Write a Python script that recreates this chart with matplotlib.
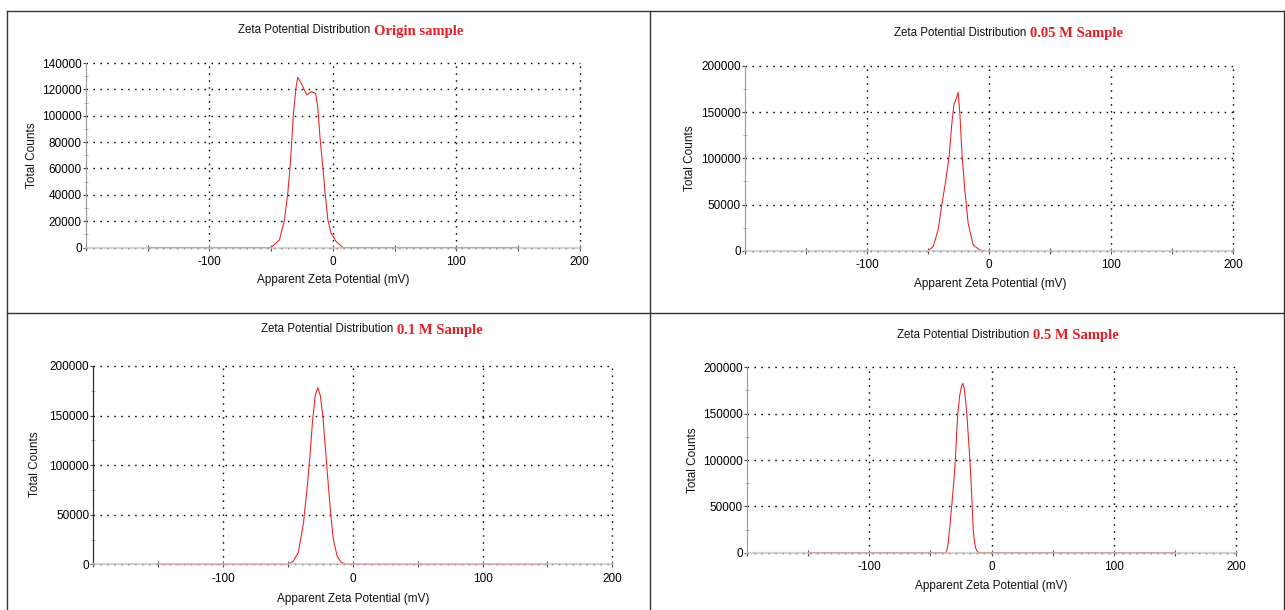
import matplotlib
matplotlib.use("Agg")
import matplotlib.pyplot as plt
from matplotlib.ticker import MultipleLocator
from matplotlib.lines import Line2D

plt.rcParams['axes.unicode_minus'] = False
plt.rcParams['font.family'] = ['Liberation Sans', 'DejaVu Sans']

W, H = 1285, 610

# ---------------- data ----------------
titles = ["Origin sample", "0.05 M Sample", "0.1 M Sample", "0.5 M Sample"]

mv1 = [-150, -50, -43.2, -39.2, -36.5, -34.6, -33.2, -31.9, -29.7, -28.4, -25.6,
       -21.1, -17.5, -14.0, -12.2, -10.2, -8.1, -6.2, -4.0, -1.4, 2.7, 8.1, 150]
counts1 = [0, 0, 5800, 21000, 41200, 61400, 81600, 101900, 122000, 129200, 124600,
           115800, 118300, 117000, 106900, 81600, 61400, 41200, 21000, 10900, 4500, 0, 0]

mv2 = [-49.9, -45.8, -41.7, -38.9, -35.4, -32.7, -30.7, -28.8, -27.2, -25.3,
       -23.9, -22.0, -19.8, -17.1, -13.0, -7.5, -3.4]
counts2 = [0, 4300, 22400, 47700, 76600, 101800, 134300, 158100, 163500, 171400,
           149000, 101800, 65800, 29700, 6200, 500, 0]

mv3 = [-150, -50, -46, -42, -38, -35, -33, -31, -29, -27, -25, -23, -21, -19,
       -17, -15, -12, -9, -5, 150]
counts3 = [0, 0, 3000, 12000, 42000, 80000, 110000, 145000, 170000, 178000, 170000,
           148000, 115000, 82000, 50000, 25000, 8000, 2000, 0, 0]

mv4 = [-150, -37, -35.5, -34, -32.5, -31, -29.6, -28.5, -27.5, -26, -24.5, -23.5,
       -22.5, -21.5, -20.2, -19, -17.7, -16.7, -15.8, -15, -14, -13, -11.5, -10, 150]
counts4 = [0, 0, 10000, 30000, 52000, 75000, 100000, 130000, 152000, 170000, 180000,
           182700, 178000, 168000, 150000, 125000, 100000, 75000, 50000, 25000,
           12000, 5000, 1000, 0, 0]

yticks1 = [0, 20000, 40000, 60000, 80000, 100000, 120000, 140000]
yticks2 = [0, 50000, 100000, 150000, 200000]
xticks = [-100, 0, 100, 200]

# ---------------- layout (pixels) ----------------
panels = [
    dict(mv=mv1, c=counts1, yt=yticks1, ymin_step=10000, box=(86, 579.6, 63, 247.5),
         split=(372, 30), ylab=(32, 155), xlab=(333, 280), spine='#a0a0a0'),
    dict(mv=mv2, c=counts2, yt=yticks2, ymin_step=25000, box=(745, 1233, 66, 250.7),
         split=(1028.5, 32.5), ylab=(690, 158), xlab=(990, 284), spine='#a0a0a0'),
    dict(mv=mv3, c=counts3, yt=yticks2, ymin_step=25000, box=(93.4, 612.2, 366, 564.3),
         split=(395, 329.5), ylab=(35.5, 464), xlab=(353, 599), spine='#303030'),
    dict(mv=mv4, c=counts4, yt=yticks2, ymin_step=25000, box=(747.1, 1236, 367.3, 552.7),
         split=(1031, 334.5), ylab=(692.7, 460), xlab=(991.7, 586), spine='#a0a0a0'),
]

fig = plt.figure(figsize=(W / 100, H / 100), dpi=100)
fig.patch.set_facecolor('white')

def fx(x):
    return x / W

def fy(y):
    return 1 - y / H

fs = 8.5
for i, p in enumerate(panels):
    l, r, t, b = p['box']
    ax = fig.add_axes([fx(l), fy(b), (r - l) / W, (b - t) / H])
    ax.set_xlim(-200, 200)
    ax.set_ylim(0, p['yt'][-1])
    ax.plot(p['mv'], p['c'], color='#ee1c1c', lw=0.75, zorder=2.2, clip_on=False)
    ax.set_xticks(xticks)
    ax.set_xticklabels([str(v) for v in xticks], fontsize=fs)
    ax.set_yticks(p['yt'])
    ax.set_yticklabels([str(v) for v in p['yt']], fontsize=fs)
    ax.xaxis.set_minor_locator(MultipleLocator(50))
    ax.yaxis.set_minor_locator(MultipleLocator(p['ymin_step']))
    ax.tick_params(axis='x', which='major', direction='inout', length=4, width=0.8,
                   color='#505050', pad=4)
    ax.tick_params(axis='x', which='minor', direction='inout', length=4, width=0.8,
                   color='#505050')
    ax.tick_params(axis='y', which='major', direction='out', length=2.5, width=0.8,
                   color='#404040', pad=0.5)
    ax.tick_params(axis='y', which='minor', direction='inout', length=3, width=0.6,
                   color='#a0a0a0')
    for s in ('top', 'right'):
        ax.spines[s].set_visible(False)
    ax.spines['bottom'].set_color('#c8c8c8')
    ax.spines['bottom'].set_alpha(0.75)
    ax.spines['bottom'].set_linewidth(1.6)
    ax.spines['bottom'].set_zorder(2.5)
    ax.spines['left'].set_color(p['spine'])
    ax.spines['left'].set_linewidth(0.9)
    ax.grid(True, which='major', color='black', linestyle=(0, (1.1, 3.9)), linewidth=1.0)
    for gl in ax.get_xgridlines() + ax.get_ygridlines():
        gl.set_clip_on(False)
    ax.set_axisbelow(True)

    sx, sy = p['split']
    fig.text(fx(sx - 2), fy(sy), "Zeta Potential Distribution", ha='right', va='center',
             fontsize=8.3, color='#111111')
    fig.text(fx(sx + 2), fy(sy + 1), titles[i], ha='left', va='center', fontsize=10.5,
             fontweight='bold', color='#e31e24',
             family=['Liberation Serif', 'DejaVu Serif'])
    fig.text(fx(p['ylab'][0]), fy(p['ylab'][1]), "Total Counts", rotation=90,
             ha='center', va='center', fontsize=8.5, color='#111111')
    fig.text(fx(p['xlab'][0]), fy(p['xlab'][1]), "Apparent Zeta Potential (mV)",
             ha='center', va='center', fontsize=8.5, color='#111111')

# panel borders
bc = '#333333'
lines = [
    ((7, 1284), (11, 11)),
    ((7, 1284), (313, 313)),
    ((7, 7), (11, 610)),
    ((650, 650), (11, 610)),
    ((1284, 1284), (11, 610)),
]
for xs, ys in lines:
    fig.add_artist(Line2D([fx(x) for x in xs], [fy(y) for y in ys], color=bc, lw=1.0))

fig.savefig("out.png", dpi=100)
